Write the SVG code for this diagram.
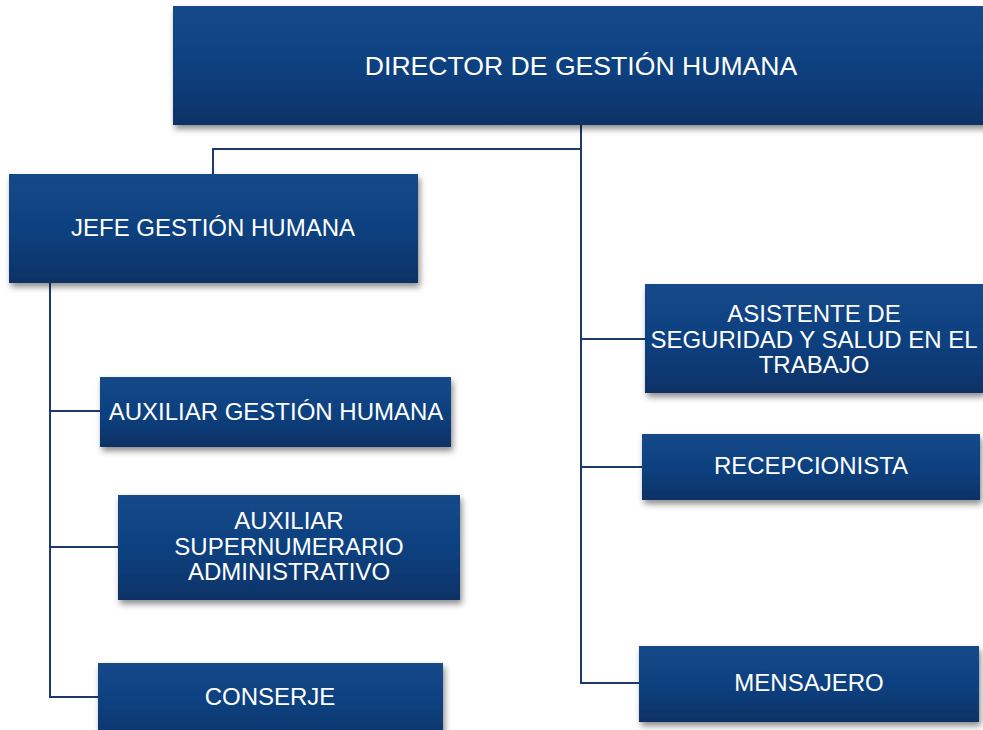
<svg xmlns="http://www.w3.org/2000/svg" width="983" height="730" viewBox="0 0 983 730">
<style>
.box{fill:url(#g);filter:url(#sh)}
.t{font-family:"Liberation Sans",Arial,sans-serif;fill:#ffffff;text-anchor:middle}
.c{fill:none;stroke:#1d3a6a;stroke-width:2}
</style>
<defs>
<linearGradient id="g" x1="0" y1="0" x2="0" y2="1">
<stop offset="0" stop-color="#124889"/>
<stop offset="0.5" stop-color="#114180"/>
<stop offset="1" stop-color="#0b3266"/>
</linearGradient>
<filter id="sh" x="-10%" y="-10%" width="130%" height="140%">
<feDropShadow dx="2" dy="4" stdDeviation="3" flood-color="#000" flood-opacity="0.45"/>
</filter>
</defs>
<rect width="983" height="730" fill="#ffffff"/>
<g id="connectors">
<path class="c" d="M581 125 V683 H640"/>
<path class="c" d="M581 149 H213 V174"/>
<path class="c" d="M581 339 H645"/>
<path class="c" d="M581 467 H642"/>
<path class="c" d="M50 283 V697 H99"/>
<path class="c" d="M50 411 H100"/>
<path class="c" d="M50 547 H118"/>
</g>
<g id="director">
<rect class="box" x="173" y="6" width="815" height="119"/>
<text class="t" x="581" y="75" font-size="26.6">DIRECTOR DE GESTIÓN HUMANA</text>
</g>
<g id="jefe">
<rect class="box" x="9" y="174" width="409" height="109"/>
<text class="t" x="213" y="236" font-size="24">JEFE GESTIÓN HUMANA</text>
</g>
<g id="aux_gh">
<rect class="box" x="100" y="377" width="351" height="70"/>
<text class="t" x="276" y="420" font-size="24">AUXILIAR GESTIÓN HUMANA</text>
</g>
<g id="aux_super">
<rect class="box" x="118" y="495" width="342" height="105"/>
<text class="t" x="289" y="529" font-size="24">AUXILIAR</text>
<text class="t" x="289" y="555" font-size="24">SUPERNUMERARIO</text>
<text class="t" x="289" y="580" font-size="24">ADMINISTRATIVO</text>
</g>
<g id="conserje">
<rect class="box" x="98" y="663" width="345" height="80"/>
<text class="t" x="270" y="705" font-size="24">CONSERJE</text>
</g>
<g id="asistente">
<rect class="box" x="645" y="284" width="338" height="109"/>
<text class="t" x="814" y="322" font-size="24">ASISTENTE DE</text>
<text class="t" x="814" y="348" font-size="24">SEGURIDAD Y SALUD EN EL</text>
<text class="t" x="814" y="373" font-size="24">TRABAJO</text>
</g>
<g id="recepcionista">
<rect class="box" x="642" y="434" width="338" height="66"/>
<text class="t" x="811" y="474" font-size="24">RECEPCIONISTA</text>
</g>
<g id="mensajero">
<rect class="box" x="639" y="646" width="340" height="76"/>
<text class="t" x="809" y="691" font-size="24">MENSAJERO</text>
</g>
</svg>
